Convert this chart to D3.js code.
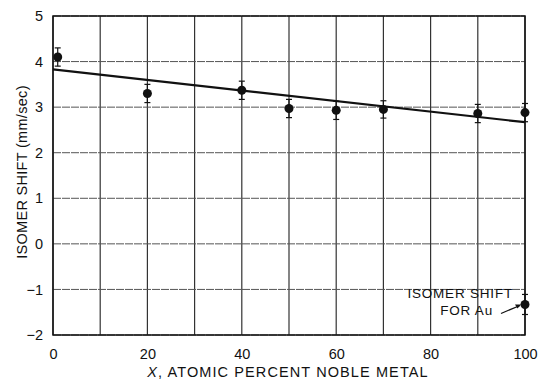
<!DOCTYPE html>
<html>
<head>
<meta charset="utf-8">
<script src="https://cdn.jsdelivr.net/npm/d3@7"></script>
<style>
  body { margin: 0; background: #fff; }
  svg { font-family: "Liberation Sans", Arial, sans-serif; }
</style>
</head>
<body>
<div id="chart"></div>
<script>
// Data
const percent = [1, 20, 40, 50, 60, 70, 90, 100];
const shift = [4.1, 3.3, 3.37, 2.97, 2.93, 2.95, 2.86, 2.88];
const shiftErr = [0.2, 0.2, 0.2, 0.2, 0.2, 0.19, 0.2, 0.2];
const auPercent = [100];
const auShift = [-1.33];
const auErr = [0.22];
const fitX = [0, 100];
const fitY = [3.83, 2.67];
const xTicks = [0, 20, 40, 60, 80, 100];
const yTicks = [-2, -1, 0, 1, 2, 3, 4, 5];
const xGrid = d3.range(0, 101, 10);

const width = 541, height = 381;
const margin = { top: 16, right: 16, bottom: 46, left: 53 };
const w = width - margin.left - margin.right;
const h = height - margin.top - margin.bottom;

const svg = d3.select('#chart').append('svg')
  .attr('width', width)
  .attr('height', height);
const g = svg.append('g')
  .attr('transform', `translate(${margin.left},${margin.top})`);

const x = d3.scaleLinear().domain([0, 100]).range([0, w]);
const y = d3.scaleLinear().domain([-2, 5]).range([h, 0]);

// grid
g.selectAll('.vgrid').data(xGrid).enter().append('line')
  .attr('x1', d => x(d)).attr('x2', d => x(d))
  .attr('y1', 0).attr('y2', h)
  .attr('stroke', '#333').attr('stroke-width', 1.2);
g.selectAll('.hgrid').data(yTicks).enter().append('line')
  .attr('x1', 0).attr('x2', w)
  .attr('y1', d => y(d)).attr('y2', d => y(d))
  .attr('stroke', '#555').attr('stroke-width', 1)
  .attr('stroke-dasharray', '8,1');

// frame
g.append('rect')
  .attr('width', w).attr('height', h)
  .attr('fill', 'none').attr('stroke', '#111').attr('stroke-width', 1.5);

// axes (labels only)
const xAxis = g.append('g')
  .attr('transform', `translate(0,${h})`)
  .call(d3.axisBottom(x).tickValues(xTicks).tickSize(0).tickPadding(14));
const yAxis = g.append('g')
  .call(d3.axisLeft(y).tickValues(yTicks).tickSize(0).tickPadding(10)
    .tickFormat(d => d < 0 ? '\u2212' + Math.abs(d) : d));
[xAxis, yAxis].forEach(a => {
  a.select('.domain').remove();
  a.selectAll('text').attr('font-size', 14.5).attr('fill', '#111')
    .attr('font-family', '"Liberation Sans", Arial, sans-serif');
});

// fit line
const line = d3.line().x(d => x(d[0])).y(d => y(d[1]));
g.append('path')
  .datum(fitX.map((v, i) => [v, fitY[i]]))
  .attr('fill', 'none').attr('stroke', '#111').attr('stroke-width', 2.2)
  .attr('d', line);

// points with error bars
function drawPoints(xs, ys, es) {
  const pts = xs.map((v, i) => ({ x: v, y: ys[i], e: es[i] }));
  const grp = g.append('g');
  grp.selectAll('.err').data(pts).enter().append('line')
    .attr('x1', d => x(d.x)).attr('x2', d => x(d.x))
    .attr('y1', d => y(d.y + d.e)).attr('y2', d => y(d.y - d.e))
    .attr('stroke', '#111').attr('stroke-width', 1.2);
  ['top', 'bot'].forEach(k => {
    grp.selectAll('.cap' + k).data(pts).enter().append('line')
      .attr('x1', d => x(d.x) - 3).attr('x2', d => x(d.x) + 3)
      .attr('y1', d => y(k === 'top' ? d.y + d.e : d.y - d.e))
      .attr('y2', d => y(k === 'top' ? d.y + d.e : d.y - d.e))
      .attr('stroke', '#111').attr('stroke-width', 1.2);
  });
  grp.selectAll('circle').data(pts).enter().append('circle')
    .attr('cx', d => x(d.x)).attr('cy', d => y(d.y))
    .attr('r', 4.5).attr('fill', '#111');
}
drawPoints(percent, shift, shiftErr);
drawPoints(auPercent, auShift, auErr);

// annotation for Au
g.append('text')
  .attr('x', x(100) - 12).attr('y', y(auShift[0]) - 6)
  .attr('text-anchor', 'end').attr('font-size', 13.5).attr('fill', '#111')
  .attr('letter-spacing', 0.8)
  .text('ISOMER SHIFT');
g.append('text')
  .attr('x', x(100) - 32).attr('y', y(auShift[0]) + 11)
  .attr('text-anchor', 'end').attr('font-size', 13.5).attr('fill', '#111')
  .attr('letter-spacing', 0.8)
  .text('FOR Au');
g.append('line')
  .attr('x1', x(100) - 24).attr('y1', y(auShift[0]) + 9)
  .attr('x2', x(100) - 5).attr('y2', y(auShift[0]) + 1)
  .attr('stroke', '#111').attr('stroke-width', 1.2);
g.append('path')
  .attr('d', `M${x(100) - 4},${y(auShift[0])} l-6,0 l2.5,4 z`)
  .attr('fill', '#111');

// axis titles
const xt = svg.append('text')
  .attr('x', 288).attr('y', 377)
  .attr('text-anchor', 'middle').attr('font-size', 14.5).attr('fill', '#111')
  .attr('letter-spacing', 1.1);
xt.append('tspan').attr('font-style', 'italic').text('X');
xt.append('tspan').text(', ATOMIC PERCENT NOBLE METAL');

svg.append('text')
  .attr('transform', `translate(27,172) rotate(-90)`)
  .attr('text-anchor', 'middle').attr('font-size', 14.5).attr('fill', '#111')
  .attr('letter-spacing', 0.3)
  .text('ISOMER SHIFT (mm/sec)');
</script>
</body>
</html>
